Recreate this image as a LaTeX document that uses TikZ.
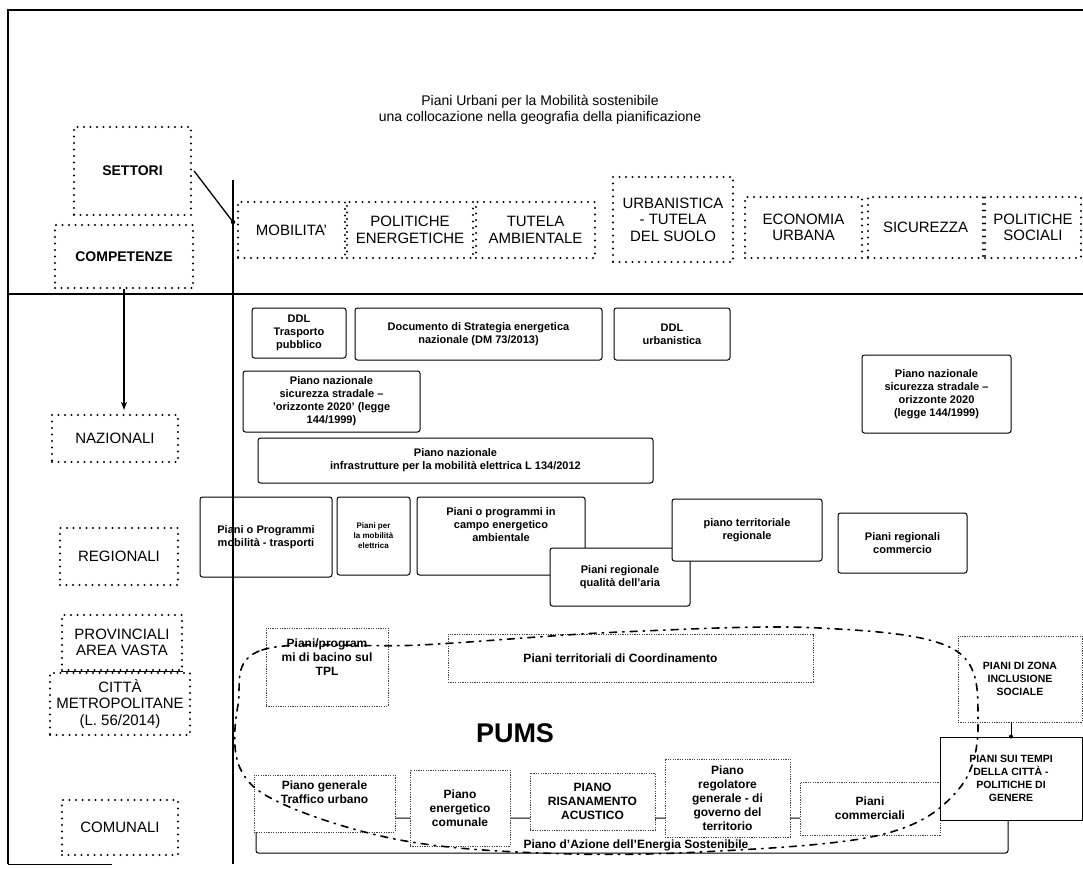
\documentclass[tikz,border=0pt]{standalone}
\usepackage{fontspec}
\setmainfont{Liberation Sans}
\usetikzlibrary{arrows.meta}
\begin{document}
\begin{tikzpicture}[x=1pt,y=-1pt,
  dotbox/.style={draw, dash pattern=on 0pt off 6.5pt, line cap=round, line width=2.3pt, inner sep=1pt, align=center, font=\fontsize{15}{16.5}\selectfont},
  pbox/.style={draw, line width=1pt, rounded corners=2.5pt, align=center, inner sep=1pt, fill=white, font=\bfseries\fontsize{11}{13}\selectfont},
  lbox/.style={draw=black!75, dash pattern=on 1.2pt off 1.2pt, line width=0.7pt, align=center, inner sep=1pt, fill=white, font=\bfseries\fontsize{12}{14}\selectfont},
  frame/.style={line width=1.6pt},
  pumsline/.style={line width=1.6pt, dash pattern=on 7pt off 6pt on 1.5pt off 6pt, line cap=round}
]
\useasboundingbox (0,0) rectangle (1083,868);
% frame
\draw[frame] (8,864) -- (8,10) -- (1083,10);
\draw[line width=1pt] (8,864) -- (112,864);
\draw[frame] (8,294) -- (1083,294);
\draw[frame] (233,180) -- (233,864);
% title
\node[font=\fontsize{14}{16.5}\selectfont, align=center] (title) at (540,110) {Piani Urbani per la Mobilità sostenibile\\una collocazione nella geografia della pianificazione};
% headers
\node[dotbox, minimum width=117, minimum height=88, font=\bfseries\fontsize{14}{16}\selectfont] (sett) at (132.5,171) {SETTORI};
\node[dotbox, minimum width=138, minimum height=63, font=\bfseries\fontsize{14}{16}\selectfont] (comp) at (124,256.5) {COMPETENZE};
\coordinate (vj) at (233,222);
\draw[line width=1.3pt] (sett.east) ++(2,0) -- (vj);
\fill (vj) circle (2.2pt);
% sectors
\node[dotbox, minimum width=107, minimum height=56] (mob) at (291.5,230) {MOBILITA'};
\node[dotbox, minimum width=126, minimum height=56] (pen) at (410,230) {POLITICHE\\ENERGETICHE};
\node[dotbox, minimum width=119, minimum height=56] (tam) at (535.5,230) {TUTELA\\AMBIENTALE};
\node[dotbox, minimum width=120, minimum height=85] (urb) at (673,219.5) {URBANISTICA\\- TUTELA\\DEL SUOLO};
\node[dotbox, minimum width=117, minimum height=61] (eco) at (803.5,227.5) {ECONOMIA\\URBANA};
\node[dotbox, minimum width=115, minimum height=61] (sic) at (925.5,227.5) {SICUREZZA};
\node[dotbox, minimum width=96, minimum height=61] (psoc) at (1033,227.5) {POLITICHE\\SOCIALI};
% levels
\node[dotbox, minimum width=126, minimum height=47] (naz) at (115,438.5) {NAZIONALI};
\node[dotbox, minimum width=118, minimum height=57] (reg) at (119,556.5) {REGIONALI};
\node[dotbox, minimum width=120, minimum height=55] (prov) at (122,642.5) {PROVINCIALI\\AREA VASTA};
\node[dotbox, minimum width=140, minimum height=62] (citta) at (120,704) {CITTÀ\\METROPOLITANE\\(L. 56/2014)};
\node[dotbox, minimum width=116, minimum height=55] (comu) at (120,827.5) {COMUNALI};
\draw[line width=1.2pt] (prov.south west) -- (prov.south east);
\draw[line width=1.3pt, -{Stealth[length=8pt,width=6pt]}] (comp.south) -- (comp.south |- naz.north) [shorten >=4pt];
% national
\node[pbox, minimum width=94, minimum height=50] (ddlt) at (299,333) {DDL\\Trasporto\\pubblico};
\node[pbox, minimum width=247, minimum height=52] (dsen) at (478.5,334) {Documento di Strategia energetica\\nazionale (DM 73/2013)};
\node[pbox, minimum width=116, minimum height=52] (ddlu) at (672,334) {DDL\\urbanistica};
\node[pbox, minimum width=177, minimum height=61] (pns1) at (331.5,401.5) {Piano nazionale\\sicurezza stradale –\\'orizzonte 2020' (legge\\144/1999)};
\node[pbox, minimum width=149, minimum height=78] (pns2) at (936.5,394) {Piano nazionale\\sicurezza stradale –\\orizzonte 2020\\(legge 144/1999)};
\node[pbox, minimum width=395, minimum height=45] (pnire) at (455.5,460.5) {Piano nazionale\\infrastrutture per la mobilità elettrica L 134/2012};
% regional
\node[pbox, fill=none, minimum width=132, minimum height=80] (ppmt) at (266,537) {Piani o Programmi\\mobilità - trasporti};
\node[pbox, minimum width=73, minimum height=78, font=\bfseries\fontsize{8}{10}\selectfont] (ppme) at (373.5,536) {Piani per\\la mobilità\\elettrica};
\node[pbox, minimum width=168, minimum height=78] (ppea) at (501,536) {Piani o programmi in\\campo energetico\\ambientale\\[10pt]};
\node[pbox, minimum width=140, minimum height=58] (pqa) at (620,577) {Piani regionale\\qualità dell'aria};
\node[pbox, minimum width=150, minimum height=62] (ptr) at (747,530) {piano territoriale\\regionale};
\node[pbox, minimum width=129, minimum height=60] (prc) at (902.5,543) {Piani regionali\\commercio};
% local
\node[pbox, minimum width=752, minimum height=35] (paes) at (632,835.5) {};
\node[lbox, minimum width=122, minimum height=78] (tpl) at (327,667) {Piani/program\\mi di bacino sul\\TPL\\[6pt]};
\node[lbox, minimum width=365, minimum height=48] (ptc) at (630.5,658) {\hspace*{-20pt}Piani territoriali di Coordinamento};
\node[lbox, minimum width=124, minimum height=86, font=\bfseries\fontsize{10.5}{13}\selectfont] (pzis) at (1020,679) {PIANI DI ZONA\\INCLUSIONE\\SOCIALE};
\node[font=\bfseries\fontsize{27}{30}\selectfont] (pums) at (515,733) {PUMS};
\node[lbox, minimum width=141, minimum height=57] (pgtu) at (324.5,803.5) {Piano generale\\Traffico urbano\\[8pt]};
\node[lbox, minimum width=100, minimum height=76] (pec) at (460,808) {Piano\\energetico\\comunale};
\node[lbox, minimum width=125, minimum height=57] (pra) at (592.5,801.5) {PIANO\\RISANAMENTO\\ACUSTICO};
\node[lbox, minimum width=125, minimum height=78] (prg) at (727.5,798) {Piano\\regolatore\\generale - di\\governo del\\territorio};
\node[lbox, minimum width=140, minimum height=53] (pcm) at (870,808.5) {Piani\\commerciali};
\node[pbox, rounded corners=0pt, minimum width=142, minimum height=83, font=\bfseries\fontsize{10.5}{13}\selectfont] (pstc) at (1011,778.5) {PIANI SUI TEMPI\\DELLA CITTÀ -\\POLITICHE DI\\GENERE};
\node[font=\bfseries\fontsize{12}{14}\selectfont] (paestxt) at (636,845) {Piano d'Azione dell'Energia Sostenibile};
\draw[line width=1pt] (pzis.south -| pstc.north) -- (pstc.north);
\fill (pstc.north) circle (2pt);
% PUMS area
\draw[pumsline] plot[smooth cycle, tension=0.6] coordinates {(238,705) (262,650) (420,645) (620,632) (820,628) (955,650) (978,722) (958,790) (880,835) (700,852) (540,853) (400,840) (285,805) (240,768)};
\end{tikzpicture}
\end{document}
